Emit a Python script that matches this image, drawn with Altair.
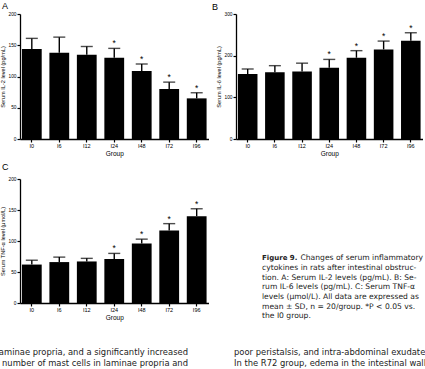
import altair as alt
import pandas as pd

# Groups: hours after intestinal obstruction
groups = ["I0", "I6", "I12", "I24", "I48", "I72", "I96"]
significant = [False, False, False, True, True, True, True]

# Panel A: serum IL-2 (pg/mL)
il2_mean = [144, 138, 135, 130, 109, 80, 65]
il2_sd = [17, 25, 13, 15, 11, 11, 9]
# Panel B: serum IL-6 (pg/mL)
il6_mean = [156, 160, 162, 171, 195, 215, 236]
il6_sd = [12, 16, 20, 20, 17, 20, 19]
# Panel C: serum TNF-alpha (umol/L)
tnf_mean = [62, 66, 67, 71, 96, 117, 140]
tnf_sd = [7, 8, 5, 9, 7, 11, 12]

panel_letters = ["A", "B", "C"]
y_titles = ["Serum IL-2 level (pg/mL)", "Serum IL-6 level (pg/mL)", "Serum TNF-α level (μmol/L)"]

caption_head = "Figure 9."
caption_lines = [
    "Changes of serum inflammatory",
    "cytokines in rats after intestinal obstruc-",
    "tion. A: Serum IL-2 levels (pg/mL). B: Se-",
    "rum IL-6 levels (pg/mL). C: Serum TNF-α",
    "levels (μmol/L). All data are expressed as",
    "mean ± SD, n = 20/group. *P < 0.05 vs.",
    "the I0 group.",
]
body_left = [
    "laminae propria, and a significantly increased",
    "number of mast cells in laminae propria and",
]
body_right = [
    "poor peristalsis, and intra-abdominal exudate",
    "In the R72 group, edema in the intestinal wall",
]

W, H = 425, 369
AXIS_FONT = "Liberation Sans"
TEXT_FONT = "DejaVu Sans"


def panel(means, sds, ymax, ystep, ytitle, x_left, x_right, y_top, y_zero):
    df = pd.DataFrame({"group": groups, "mean": means, "sd": sds})
    df["upper"] = df["mean"] + df["sd"]
    df["star"] = ["*" if s else "" for s in significant]

    x = alt.X(
        "group:N",
        sort=groups,
        scale=alt.Scale(range=[x_left, x_right], paddingInner=0.28, paddingOuter=0.07),
        axis=alt.Axis(
            orient="bottom", offset=y_zero - H, title="Group",
            labelAngle=0, labelFont=AXIS_FONT, labelFontSize=5.5, labelColor="black",
            labelPadding=1, tickSize=3, tickColor="black", tickWidth=1.2,
            domainColor="black", domainWidth=1.3,
            titleFont=AXIS_FONT, titleFontSize=6.5, titleFontWeight="normal",
            titleColor="black", titlePadding=2,
        ),
    )
    yscale = alt.Scale(domain=[0, ymax], range=[y_zero, y_top], nice=False)
    yaxis = alt.Axis(
        orient="left", offset=-x_left, title=ytitle,
        values=list(range(0, ymax + 1, ystep)), grid=False,
        labelFont=AXIS_FONT, labelFontSize=4.8, labelColor="black", labelPadding=1,
        tickSize=3, tickColor="black", tickWidth=1.2,
        domainColor="black", domainWidth=1.3,
        titleFont=AXIS_FONT, titleFontSize=5.6, titleFontWeight="normal",
        titleColor="black", titlePadding=2.5,
    )
    base = alt.Chart(df).encode(x=x)
    bars = base.mark_bar(color="black").encode(
        y=alt.Y("mean:Q", scale=yscale, axis=yaxis)
    )
    err = base.mark_rule(color="black", strokeWidth=1.4).encode(
        y=alt.Y("mean:Q", scale=yscale, axis=yaxis), y2="upper:Q"
    )
    cap = base.mark_tick(color="black", size=12, thickness=1.4).encode(
        y=alt.Y("upper:Q", scale=yscale, axis=yaxis)
    )
    star = base.mark_text(dy=-5, fontSize=8.5, font=AXIS_FONT, color="black").encode(
        y=alt.Y("upper:Q", scale=yscale, axis=yaxis), text="star:N"
    )
    return alt.layer(bars, err, cap, star)


panel_a = panel(il2_mean, il2_sd, 200, 50, y_titles[0], 20, 208.5, 14, 139)
panel_b = panel(il6_mean, il6_sd, 300, 100, y_titles[1], 236, 422.5, 14, 139)
panel_c = panel(tnf_mean, tnf_sd, 200, 50, y_titles[2], 20, 208.5, 179, 303)


def letter(i, x, y):
    return alt.Chart(pd.DataFrame({"t": [panel_letters[i]]})).mark_text(
        align="left", baseline="top", font=AXIS_FONT, fontSize=9, color="black"
    ).encode(text="t:N", x=alt.value(x), y=alt.value(y))


letters = alt.layer(letter(0, 2, 2), letter(1, 212, 3), letter(2, 2, 163))

# Figure caption, one text row per line
CAP_SIZE = 7.6
cap_df = pd.DataFrame({"line": list(range(len(caption_lines))), "text": caption_lines})
cap_y = alt.Scale(domain=[0, len(caption_lines) - 1], range=[258.3, 316.3])
cap_head = alt.Chart(pd.DataFrame({"line": [0], "text": [caption_head]})).mark_text(
    align="left", baseline="middle", font=TEXT_FONT, fontSize=7.0, fontWeight="bold", color="#222"
).encode(x=alt.value(262), y=alt.Y("line:Q", scale=cap_y, axis=None), text="text:N")
cap_first = alt.Chart(cap_df.iloc[:1]).mark_text(
    align="left", baseline="middle", font=TEXT_FONT, fontSize=CAP_SIZE, color="#222"
).encode(x=alt.value(300.5), y=alt.Y("line:Q", scale=cap_y, axis=None), text="text:N")
cap_rest = alt.Chart(cap_df.iloc[1:]).mark_text(
    align="left", baseline="middle", font=TEXT_FONT, fontSize=CAP_SIZE, color="#222"
).encode(x=alt.value(262), y=alt.Y("line:Q", scale=cap_y, axis=None), text="text:N")
caption = alt.layer(cap_head, cap_first, cap_rest)

# Running body text below the figure (two columns)
BODY_SIZE = 8.4
body_y = alt.Scale(domain=[0, 1], range=[351.7, 362.7])
left_df = pd.DataFrame({"line": [0, 1], "text": body_left})
right_df = pd.DataFrame({"line": [0, 1], "text": body_right})
body_l = alt.Chart(left_df).mark_text(
    align="right", baseline="middle", font=TEXT_FONT, fontSize=BODY_SIZE, color="#222"
).encode(x=alt.value(188), y=alt.Y("line:Q", scale=body_y, axis=None), text="text:N")
body_r = alt.Chart(right_df).mark_text(
    align="left", baseline="middle", font=TEXT_FONT, fontSize=BODY_SIZE, color="#222"
).encode(x=alt.value(234), y=alt.Y("line:Q", scale=body_y, axis=None), text="text:N")
body = alt.layer(body_l, body_r)

chart = (
    alt.layer(panel_a, panel_b, panel_c, letters, caption, body)
    .resolve_scale(x="independent", y="independent")
    .properties(width=W, height=H, padding=0, autosize="none", background="white")
    .configure_view(stroke=None)
)

chart.save("out.html", embed_options={"renderer": "svg", "actions": False})
